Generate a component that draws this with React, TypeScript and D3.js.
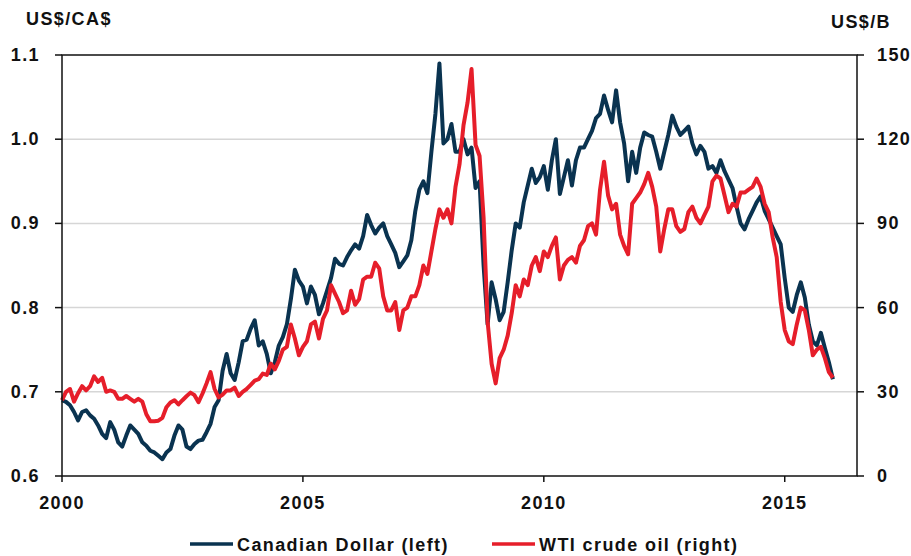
import React, { useEffect, useRef } from "react";
import * as d3 from "d3";

// monthly readings, Jan 2000 .. Jan 2016
const startYear = 2000;

// US$ per CA$ (left axis)
const cadValues = [
  0.690, 0.688, 0.684, 0.676, 0.666, 0.676, 0.678, 0.672, 0.668, 0.660, 0.650, 0.645, // 2000
  0.664, 0.655, 0.640, 0.635, 0.648, 0.660, 0.655, 0.650, 0.640, 0.636, 0.630, 0.628, // 2001
  0.624, 0.620, 0.628, 0.632, 0.648, 0.660, 0.655, 0.635, 0.632, 0.638, 0.642, 0.643, // 2002
  0.652, 0.662, 0.682, 0.690, 0.725, 0.745, 0.722, 0.714, 0.735, 0.760, 0.762, 0.775, // 2003
  0.785, 0.755, 0.760, 0.745, 0.722, 0.735, 0.755, 0.765, 0.780, 0.810, 0.845, 0.832, // 2004
  0.825, 0.805, 0.825, 0.815, 0.792, 0.805, 0.820, 0.835, 0.858, 0.852, 0.850, 0.860, // 2005
  0.868, 0.875, 0.870, 0.885, 0.910, 0.898, 0.888, 0.895, 0.900, 0.885, 0.875, 0.865, // 2006
  0.848, 0.855, 0.862, 0.880, 0.915, 0.940, 0.950, 0.936, 0.985, 1.030, 1.090, 0.995, // 2007
  1.000, 1.018, 0.985, 0.985, 1.000, 0.982, 0.990, 0.942, 0.950, 0.850, 0.780, 0.830, // 2008
  0.810, 0.785, 0.795, 0.830, 0.868, 0.900, 0.895, 0.925, 0.945, 0.965, 0.948, 0.955, // 2009
  0.968, 0.940, 0.975, 1.000, 0.935, 0.955, 0.975, 0.945, 0.975, 0.990, 0.990, 1.000, // 2010
  1.010, 1.025, 1.030, 1.052, 1.035, 1.020, 1.058, 1.020, 0.995, 0.950, 0.985, 0.960, // 2011
  0.990, 1.008, 1.005, 1.003, 0.985, 0.965, 0.985, 1.005, 1.028, 1.015, 1.005, 1.010, // 2012
  1.015, 0.995, 0.982, 0.992, 0.985, 0.965, 0.968, 0.960, 0.975, 0.962, 0.952, 0.942, // 2013
  0.920, 0.900, 0.893, 0.905, 0.915, 0.925, 0.932, 0.915, 0.905, 0.895, 0.885, 0.875, // 2014
  0.835, 0.800, 0.795, 0.815, 0.830, 0.812, 0.780, 0.760, 0.755, 0.770, 0.752, 0.735, // 2015
  0.715, // 2016
];

// WTI crude, US$ per barrel (right axis)
const oilValues = [
  27.0, 30.0, 31.0, 26.5, 29.5, 32.0, 30.5, 32.0, 35.5, 33.5, 35.0, 30.0, // 2000
  30.5, 30.0, 27.5, 27.5, 28.5, 27.5, 26.5, 27.5, 26.5, 22.0, 19.5, 19.5, // 2001
  19.7, 20.7, 24.5, 26.2, 27.0, 25.5, 27.0, 28.4, 29.7, 28.8, 26.3, 29.4, // 2002
  33.0, 37.0, 31.0, 28.0, 29.0, 30.5, 30.5, 31.5, 28.5, 30.0, 31.0, 32.5, // 2003
  34.0, 34.5, 36.5, 36.0, 40.0, 38.0, 41.0, 45.0, 46.0, 54.0, 49.0, 43.0, // 2004
  46.0, 48.0, 54.0, 55.0, 49.0, 56.0, 59.0, 68.0, 65.0, 62.0, 58.0, 59.0, // 2005
  66.0, 61.0, 63.0, 70.0, 71.0, 71.0, 76.0, 74.0, 64.0, 59.0, 59.0, 62.0, // 2006
  52.0, 59.0, 60.0, 64.0, 64.0, 68.0, 75.0, 72.0, 80.0, 88.0, 95.0, 92.0, // 2007
  95.0, 90.0, 103.0, 111.0, 125.0, 133.0, 145.0, 118.0, 114.0, 92.0, 55.0, 40.0, // 2008
  33.0, 42.0, 45.0, 50.0, 58.0, 68.0, 64.0, 70.0, 68.0, 75.0, 78.0, 73.0, // 2009
  80.0, 78.0, 82.0, 85.0, 70.0, 75.0, 77.0, 78.0, 76.0, 82.0, 84.0, 89.0, // 2010
  90.0, 86.0, 102.0, 112.0, 100.0, 95.0, 97.0, 86.0, 82.0, 79.0, 97.0, 99.0, // 2011
  101.0, 104.0, 108.0, 103.0, 96.0, 80.0, 88.0, 95.0, 95.0, 89.0, 87.0, 88.0, // 2012
  94.0, 96.0, 92.0, 90.0, 93.0, 96.0, 105.0, 107.0, 106.0, 100.0, 94.0, 97.0, // 2013
  96.0, 101.0, 101.0, 102.0, 103.0, 106.0, 103.0, 97.0, 94.0, 85.0, 78.0, 62.0, // 2014
  52.0, 48.0, 47.0, 54.0, 60.0, 59.0, 52.0, 43.0, 45.0, 46.0, 42.0, 37.0, // 2015
  35.0, // 2016
];

const xTicks = [2000, 2005, 2010, 2015];
const leftTicks = [0.6, 0.7, 0.8, 0.9, 1.0, 1.1];
const rightTicks = [0, 30, 60, 90, 120, 150];

const seriesNames = ["Canadian Dollar (left)", "WTI crude oil (right)"];
const seriesColors = ["#0a3350", "#e61e2a"];

const W = 911;
const H = 556;
const margin = { left: 62, right: 54, top: 55, bottom: 80 };

const App: React.FC = () => {
  const ref = useRef<SVGSVGElement | null>(null);

  useEffect(() => {
    const svg = d3.select(ref.current);
    svg.selectAll("*").remove();

    const x = d3.scaleLinear().domain([2000, 2016.5]).range([margin.left, W - margin.right]);
    const yL = d3.scaleLinear().domain([0.6, 1.1]).range([H - margin.bottom, margin.top]);
    const yR = d3.scaleLinear().domain([0, 150]).range([H - margin.bottom, margin.top]);

    const font = "'Liberation Sans', Arial, sans-serif";
    const txt = (sel: any) =>
      sel.attr("font-family", font).attr("font-weight", "bold").attr("font-size", 18)
        .attr("letter-spacing", 1.4).attr("fill", "#111");

    // grid
    svg.append("g")
      .selectAll("line")
      .data(leftTicks.filter(t => t > 0.6 && t < 1.1))
      .join("line")
      .attr("x1", margin.left).attr("x2", W - margin.right)
      .attr("y1", d => yL(d)).attr("y2", d => yL(d))
      .attr("stroke", "#d6d6d6").attr("stroke-width", 1.5);

    // series
    const cadPts = cadValues.map((v, i) => [startYear + i / 12, v] as [number, number]);
    const oilPts = oilValues.map((v, i) => [startYear + i / 12, v] as [number, number]);
    const lineL = d3.line<[number, number]>().x(d => x(d[0])).y(d => yL(d[1]));
    const lineR = d3.line<[number, number]>().x(d => x(d[0])).y(d => yR(d[1]));

    svg.append("path").attr("d", lineL(cadPts)).attr("fill", "none")
      .attr("stroke", seriesColors[0]).attr("stroke-width", 4).attr("stroke-linejoin", "round");
    svg.append("path").attr("d", lineR(oilPts)).attr("fill", "none")
      .attr("stroke", seriesColors[1]).attr("stroke-width", 4).attr("stroke-linejoin", "round");

    // frame
    svg.append("rect")
      .attr("x", margin.left).attr("y", margin.top)
      .attr("width", W - margin.left - margin.right)
      .attr("height", H - margin.top - margin.bottom)
      .attr("fill", "none").attr("stroke", "#111").attr("stroke-width", 1.5);

    // left axis
    const gl = svg.append("g");
    gl.selectAll("line").data(leftTicks).join("line")
      .attr("x1", margin.left - 7).attr("x2", margin.left)
      .attr("y1", d => yL(d)).attr("y2", d => yL(d))
      .attr("stroke", "#111").attr("stroke-width", 1.5);
    gl.selectAll("text").data(leftTicks).join("text")
      .call(txt)
      .attr("x", 40).attr("y", d => yL(d) + 6)
      .attr("text-anchor", "end")
      .text(d => d3.format(".1f")(d));

    // right axis
    const gr = svg.append("g");
    gr.selectAll("line").data(rightTicks).join("line")
      .attr("x1", W - margin.right).attr("x2", W - margin.right + 7)
      .attr("y1", d => yR(d)).attr("y2", d => yR(d))
      .attr("stroke", "#111").attr("stroke-width", 1.5);
    gr.selectAll("text").data(rightTicks).join("text")
      .call(txt)
      .attr("x", 877).attr("y", d => yR(d) + 6)
      .text(d => String(d));

    // x axis
    const gx = svg.append("g");
    gx.selectAll("line").data(xTicks).join("line")
      .attr("x1", d => x(d)).attr("x2", d => x(d))
      .attr("y1", H - margin.bottom).attr("y2", H - margin.bottom + 6)
      .attr("stroke", "#111").attr("stroke-width", 1.5);
    gx.selectAll("text").data(xTicks).join("text")
      .call(txt)
      .attr("x", d => x(d)).attr("y", 509)
      .attr("text-anchor", "middle")
      .text(d => String(d));

    // axis titles
    svg.append("text").call(txt).attr("x", 26).attr("y", 25).text("US$/CA$");
    svg.append("text").call(txt).attr("x", 831).attr("y", 28).text("US$/B");

    // legend
    const legX = [190, 492];
    const lg = svg.append("g");
    seriesNames.forEach((name, i) => {
      lg.append("line")
        .attr("x1", legX[i]).attr("x2", legX[i] + 43)
        .attr("y1", 544).attr("y2", 544)
        .attr("stroke", seriesColors[i]).attr("stroke-width", 3.5);
      lg.append("text").call(txt)
        .attr("x", legX[i] + 47).attr("y", 551)
        .text(name);
    });
  }, []);

  return (
    <div style={{ position: "absolute", left: 0, top: 0, background: "#fff" }}>
      <svg ref={ref} width={W} height={H} style={{ display: "block" }} />
    </div>
  );
};

export default App;
